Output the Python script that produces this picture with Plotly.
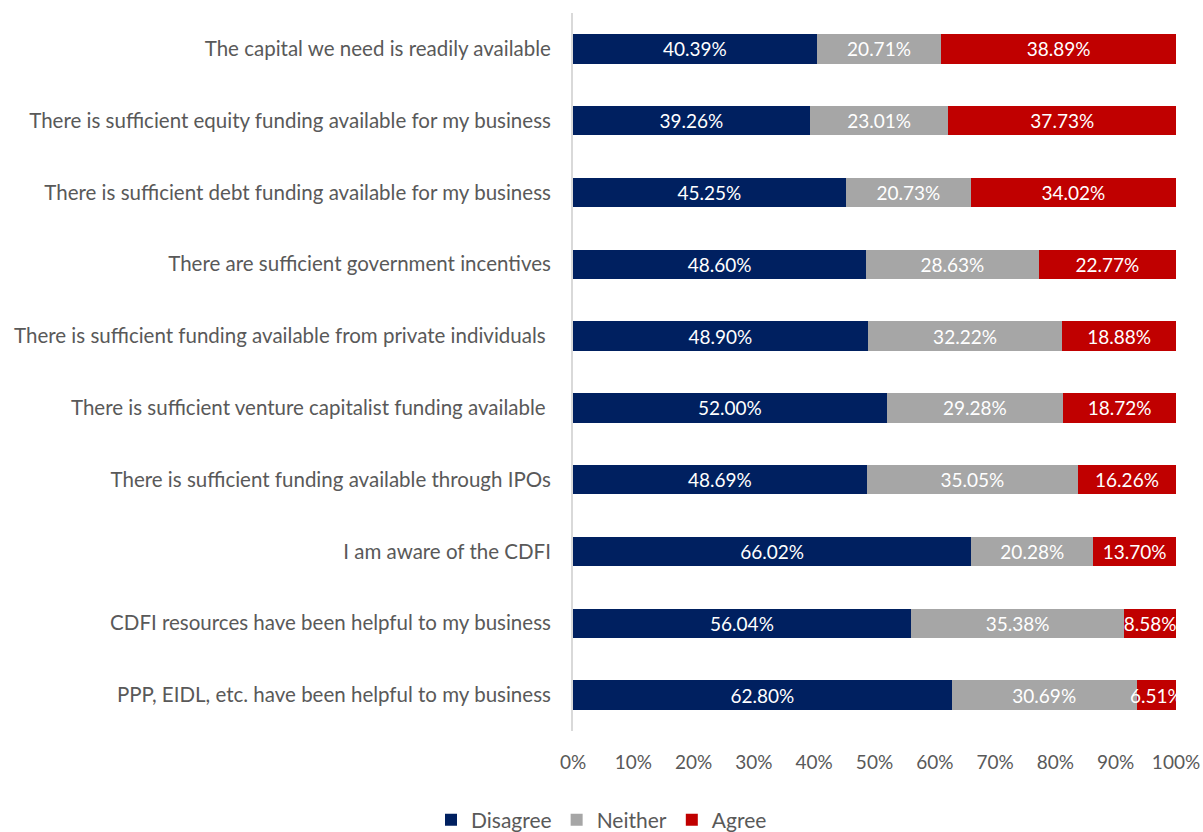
import plotly.graph_objects as go

statements = [
    "The capital we need is readily available",
    "There is sufficient equity funding available for my business",
    "There is sufficient debt funding available for my business",
    "There are sufficient government incentives",
    "There is sufficient funding available from private individuals ",
    "There is sufficient venture capitalist funding available ",
    "There is sufficient funding available through IPOs",
    "I am aware of the CDFI",
    "CDFI resources have been helpful to my business",
    "PPP, EIDL, etc. have been helpful to my business",
]
disagree = [40.39, 39.26, 45.25, 48.60, 48.90, 52.00, 48.69, 66.02, 56.04, 62.80]
neither = [20.71, 23.01, 20.73, 28.63, 32.22, 29.28, 35.05, 20.28, 35.38, 30.69]
agree = [38.89, 37.73, 34.02, 22.77, 18.88, 18.72, 16.26, 13.70, 8.58, 6.51]

series = [
    ("Disagree", disagree, "#002060"),
    ("Neither", neither, "#A6A6A6"),
    ("Agree", agree, "#C00000"),
]

FONT = "Lato, Calibri, sans-serif"

fig = go.Figure()
for name, vals, color in series:
    fig.add_trace(go.Bar(
        name=name,
        y=statements,
        x=[v / 100 for v in vals],
        orientation="h",
        marker=dict(color=color, line=dict(width=0)),
        text=[f"{v:.2f}%" for v in vals],
        textposition="inside",
        insidetextanchor="middle",
        constraintext="none",
        cliponaxis=False,
        textfont=dict(family=FONT, size=19, color="white"),
        hoverinfo="skip",
    ))

fig.update_layout(
    barmode="stack",
    bargap=0.59,
    width=1203,
    height=832,
    margin=dict(l=573, r=27, t=13, b=101, autoexpand=False),
    paper_bgcolor="white",
    plot_bgcolor="white",
    font=dict(family=FONT, size=19, color="#595959"),
    showlegend=True,
    legend=dict(
        orientation="h",
        xref="container",
        x=0.5,
        xanchor="center",
        yref="container",
        y=(832 - 820) / 832,
        yanchor="middle",
        font=dict(family=FONT, size=21, color="#595959"),
        itemwidth=30,
        traceorder="normal",
    ),
)

fig.update_xaxes(
    range=[0, 1],
    tickvals=[i / 10 for i in range(11)],
    ticktext=[f"{i * 10}%" for i in range(11)],
    showgrid=False,
    zeroline=False,
    showline=False,
    ticks="",
    automargin=False,
    tickfont=dict(family=FONT, size=19, color="#595959"),
    ticklabelstandoff=18,
    fixedrange=True,
)

fig.update_yaxes(
    autorange="reversed",
    showgrid=False,
    zeroline=False,
    showline=True,
    linecolor="#D9D9D9",
    linewidth=2,
    ticks="",
    automargin=False,
    ticklabelstandoff=16,
    tickfont=dict(family=FONT, size=20.5, color="#595959"),
    fixedrange=True,
)

fig.write_html("out.html")
